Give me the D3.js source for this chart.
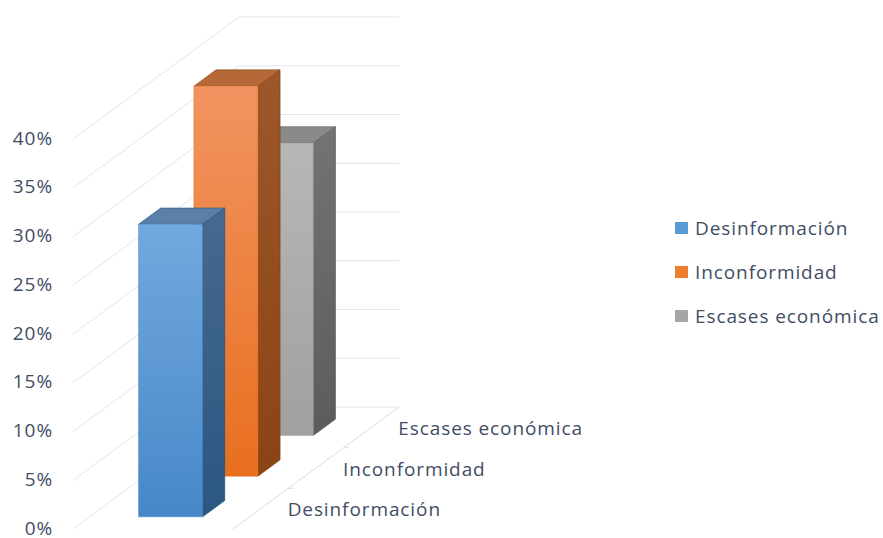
<!DOCTYPE html>
<html>
<head>
<meta charset="utf-8">
<script src="https://cdn.jsdelivr.net/npm/d3@7"></script>
<style>
  body { margin: 0; background: #fff; }
  text { font-family: "Open Sans", "Noto Sans", sans-serif; fill: #3f4d64; font-size: 19px; letter-spacing: 0.9px; }
</style>
</head>
<body>
<div class="svg"></div>
<script>
var categories = ["Causas"];
var series = ["Desinformación", "Inconformidad", "Escases económica"];
var values = [0.30, 0.40, 0.30];
var yTicks = [0, 0.05, 0.10, 0.15, 0.20, 0.25, 0.30, 0.35, 0.40];

drawpicture();

function drawpicture() {
    var width = 883,
        height = 538;

    var svg = d3.select(".svg").append("svg")
        .attr("width", width)
        .attr("height", height);

    // depth vector of the 3d box (z = 0 front, z = 1 back)
    var DX = 166,
        DY = -122;

    var y = d3.scaleLinear()
        .domain([0, 0.40])
        .range([529, 139]);

    var x = d3.scaleBand()
        .domain(categories)
        .range([73, 233])
        .paddingOuter(0.75)
        .align(0.51);

    var z = d3.scaleBand()
        .domain(series)
        .range([0, 1])
        .paddingInner(0.6)
        .paddingOuter(0.3);

    function pt(px, v, zz) {
        return [px + zz * DX, y(v) + zz * DY];
    }

    var colors = {
        "Desinformación": {front: ["#72a9de", "#4787c9"], top: "#5a7fa9", side: ["#46698f", "#2b5782"], edge: "#1f5782", legend: "#5b9bd5"},
        "Inconformidad": {front: ["#f19461", "#e96f1f"], top: "#b56939", side: ["#9c572b", "#8a4414"], edge: "#8a4414", legend: "#ed7d31"},
        "Escases económica": {front: ["#b7b7b7", "#a0a0a0"], top: "#8a8a8a", side: ["#737373", "#5c5c5c"], edge: "#5c5c5c", legend: "#a5a5a5"}
    };

    var defs = svg.append("defs");
    series.forEach(function (s, i) {
        var c = colors[s];
        var g1 = defs.append("linearGradient").attr("id", "front" + i)
            .attr("x1", 0).attr("y1", 0).attr("x2", 0).attr("y2", 1);
        g1.append("stop").attr("offset", "0%").attr("stop-color", c.front[0]);
        g1.append("stop").attr("offset", "100%").attr("stop-color", c.front[1]);
        var g2 = defs.append("linearGradient").attr("id", "side" + i)
            .attr("x1", 0).attr("y1", 0).attr("x2", 0).attr("y2", 1);
        g2.append("stop").attr("offset", "0%").attr("stop-color", c.side[0]);
        g2.append("stop").attr("offset", "100%").attr("stop-color", c.side[1]);
    });

    var line = d3.line();
    var x0 = x.range()[0],
        x1 = x.range()[1],
        wall = x1 - x0;

    // gridlines: side wall diagonal + back wall horizontal
    var grid = svg.append("g");
    grid.selectAll("path")
        .data(yTicks)
        .enter().append("path")
        .attr("d", function (t) {
            var a = pt(x0, t, 0), b = pt(x0, t, 1);
            return line([a, b, [b[0] + wall, b[1]]]);
        })
        .attr("fill", "none")
        .attr("stroke", "#e1e5ec")
        .attr("stroke-width", 1);

    // floor right edge (depth axis)
    grid.append("path")
        .attr("d", line([pt(x1, 0, 0), pt(x1, 0, 1)]))
        .attr("stroke", "#d6dce5")
        .attr("fill", "none");

    grid.selectAll(".dtick")
        .data([1 / 3, 2 / 3])
        .enter().append("path")
        .attr("class", "dtick")
        .attr("d", function (f) {
            var p = pt(x1, 0, f);
            return line([p, [p[0] + 5, p[1]]]);
        })
        .attr("stroke", "#d6dce5");

    // y labels
    svg.append("g").selectAll("text")
        .data(yTicks)
        .enter().append("text")
        .attr("x", 53)
        .attr("y", function (t) { return y(t) - 1; })
        .attr("dy", "0.35em")
        .attr("text-anchor", "end")
        .text(function (t) { return d3.format(".0%")(t); });

    // bars, back to front
    var order = d3.range(series.length).reverse();
    var bars = svg.append("g");
    order.forEach(function (i) {
        var s = series[i], v = values[i], c = colors[s];
        var bx0 = x(categories[0]), bx1 = bx0 + x.bandwidth();
        var z0 = z(s), z1 = z0 + z.bandwidth();
        var g = bars.append("g");
        g.append("path")
            .attr("d", line([pt(bx1, v, z0), pt(bx1, v, z1), pt(bx1, 0, z1), pt(bx1, 0, z0)]) + "Z")
            .attr("fill", "url(#side" + i + ")")
            .attr("stroke", c.edge).attr("stroke-width", 0.8);
        g.append("path")
            .attr("d", line([pt(bx0, v, z0), pt(bx1, v, z0), pt(bx1, v, z1), pt(bx0, v, z1)]) + "Z")
            .attr("fill", c.top)
            .attr("stroke", c.edge).attr("stroke-width", 0.6);
        g.append("path")
            .attr("d", line([pt(bx0, v, z0), pt(bx1, v, z0), pt(bx1, 0, z0), pt(bx0, 0, z0)]) + "Z")
            .attr("fill", "url(#front" + i + ")")
            .attr("stroke", c.front[1]).attr("stroke-width", 0.5);
    });

    // depth axis labels
    svg.append("g").selectAll("text")
        .data(series)
        .enter().append("text")
        .attr("x", function (s) { return pt(x1, 0, z(s) + z.bandwidth() / 2)[0] + 27; })
        .attr("y", function (s) { return pt(x1, 0, z(s) + z.bandwidth() / 2)[1] + 1; })
        .attr("dy", "0.35em")
        .text(function (s) { return s; });

    // legend
    var legend = svg.append("g")
        .selectAll("g")
        .data(series)
        .enter().append("g")
        .attr("transform", function (s, i) { return "translate(675," + (228 + i * 44) + ")"; });
    legend.append("rect")
        .attr("x", 0).attr("y", -6)
        .attr("width", 13).attr("height", 12)
        .attr("fill", function (s) { return colors[s].legend; });
    legend.append("text")
        .attr("x", 20)
        .attr("dy", "0.35em")
        .text(function (s) { return s; });
}
</script>
</body>
</html>
